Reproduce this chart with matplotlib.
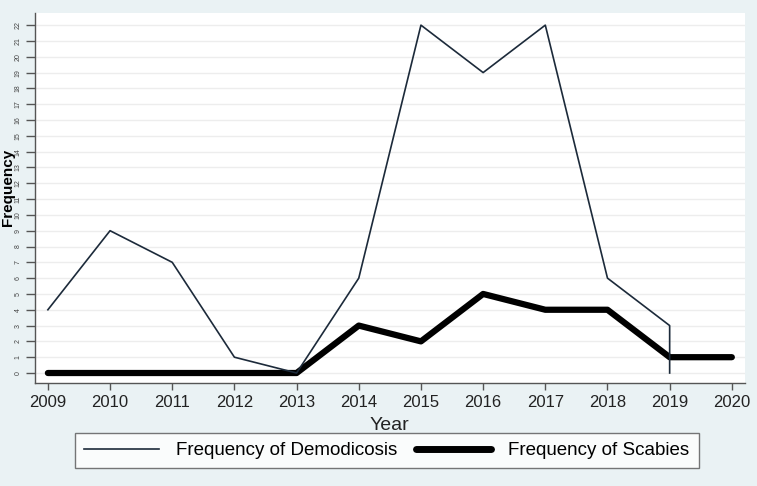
import matplotlib
matplotlib.use("Agg")
import matplotlib.pyplot as plt
from matplotlib.lines import Line2D

plt.rcParams['font.family'] = ['Liberation Sans', 'DejaVu Sans']

years_demo = [2009, 2010, 2011, 2012, 2013, 2014, 2015, 2016, 2017, 2018, 2019, 2019]
demodicosis = [4, 9, 7, 1, 0, 6, 22, 19, 22, 6, 3, 0]
years_scab = [2009, 2010, 2011, 2012, 2013, 2014, 2015, 2016, 2017, 2018, 2019, 2020]
scabies = [0, 0, 0, 0, 0, 3, 2, 5, 4, 4, 1, 1]
xticks = list(range(2009, 2021))
yticks = list(range(0, 23))

bg = "#eaf2f4"
fig = plt.figure(figsize=(7.57, 4.86), dpi=100, facecolor=bg)
ax = fig.add_axes([0.046, 0.212, 0.938, 0.761])
ax.set_facecolor("white")

ax.plot(years_scab, scabies, color="black", lw=4.5, solid_capstyle="round",
        solid_joinstyle="round", zorder=3, label="Frequency of Scabies")
ax.plot(years_demo, demodicosis, color="#1c2a3a", lw=1.2, zorder=4,
        label="Frequency of Demodicosis")

ax.set_xlim(2008.79, 2020.21)
ax.set_ylim(-0.63, 22.76)
ax.set_xticks(xticks)
ax.set_xticklabels([str(x) for x in xticks], fontsize=12, color="#222222")
ax.set_yticks(yticks)
ax.set_yticklabels([str(y) for y in yticks], fontsize=5, rotation=90,
                   va="center", color="#444444")
ax.tick_params(axis="x", color="#555555", length=5, width=1)
ax.tick_params(axis="y", color="#555555", length=6.5, width=1, pad=3)
ax.grid(axis="y", color="#ededed", lw=1)
ax.set_axisbelow(True)
for s in ["top", "right"]:
    ax.spines[s].set_visible(False)
for s in ["left", "bottom"]:
    ax.spines[s].set_color("#555555")
    ax.spines[s].set_linewidth(1)

ax.set_xlabel("Year", fontsize=14, color="#222222", labelpad=5)
ax.set_ylabel("Frequency", fontsize=11, fontweight="bold")
ax.yaxis.set_label_coords(-0.0275, 0.53)

handles = [Line2D([], [], color="#1c2a3a", lw=1.2),
           Line2D([], [], color="black", lw=5, solid_capstyle="round")]
leg = fig.legend(handles, ["Frequency of Demodicosis", "Frequency of Scabies"],
                 loc="center", bbox_to_anchor=(0.511, 0.073), ncol=2,
                 fontsize=13.5, frameon=True, fancybox=False, edgecolor="#555555",
                 handlelength=4.0, handletextpad=0.9, columnspacing=1.0, borderpad=0.5)
leg.get_frame().set_linewidth(1)

fig.savefig("out.png", dpi=100, facecolor=bg)
